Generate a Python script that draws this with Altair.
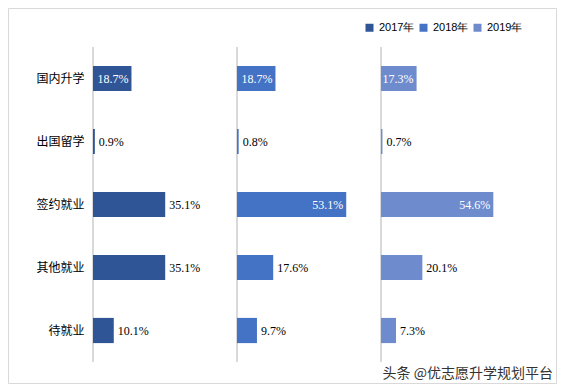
import altair as alt
import pandas as pd

years = ["2017年", "2018年", "2019年"]
categories = ["国内升学", "出国留学", "签约就业", "其他就业", "待就业"]
v2017 = [18.7, 0.9, 35.1, 35.1, 10.1]
v2018 = [18.7, 0.8, 53.1, 17.6, 9.7]
v2019 = [17.3, 0.7, 54.6, 20.1, 7.3]
colors = ["#2F5597", "#4472C4", "#6E8BCE"]
source_note = "头条 @优志愿升学规划平台"

PANEL = 70  # width of each panel in value units
series = [v2017, v2018, v2019]
rows = []
for i, (yr, vals) in enumerate(zip(years, series)):
    for c, v in zip(categories, vals):
        rows.append({"cat": c, "year": yr, "panel": i, "value": v})
df = pd.DataFrame(rows)
panels_df = pd.DataFrame({"px": [i * PANEL for i in range(len(years))]})

W, H = 432, 315
xscale = alt.Scale(domain=[0, PANEL * len(years)], nice=False, zero=True)
yscale = alt.Scale(domain=categories, paddingInner=0.6, paddingOuter=0.3)

base = alt.Chart(df).transform_calculate(
    start=f"datum.panel * {PANEL}",
    end=f"datum.panel * {PANEL} + datum.value",
    inside="datum.cat == '国内升学' || datum.value > 50",
    label="format(datum.value, '.1f') + '%'",
)

rules = alt.Chart(panels_df).mark_rule(color="#d9d9d9", strokeWidth=2).encode(
    x=alt.X("px:Q", scale=xscale, axis=None)
)

bars = base.mark_bar().encode(
    x=alt.X("start:Q", scale=xscale, axis=None),
    x2="end:Q",
    y=alt.Y("cat:N", scale=yscale, sort=categories, title=None,
            axis=alt.Axis(domain=False, ticks=False, grid=False, labelPadding=9,
                          labelFont="Noto Sans CJK SC", labelFontSize=12,
                          labelColor="#000000")),
    color=alt.Color("year:N", scale=alt.Scale(domain=years, range=colors),
                    legend=alt.Legend(title=None, orient="none", legendX=271, legendY=-25,
                                      direction="horizontal", symbolType="square",
                                      symbolSize=64, symbolStrokeWidth=0,
                                      labelFont="Liberation Sans", labelFontSize=11,
                                      labelColor="#000000", labelOffset=4,
                                      columnPadding=3)),
)

out_labels = base.transform_filter("!datum.inside").mark_text(
    align="left", baseline="middle", dx=4, font="Liberation Serif", fontSize=12, color="#000000"
).encode(
    x=alt.X("end:Q", scale=xscale, axis=None),
    y=alt.Y("cat:N", scale=yscale, sort=categories),
    text="label:N",
)

in_labels = base.transform_filter("datum.inside").mark_text(
    align="right", baseline="middle", dx=-3, font="Liberation Serif", fontSize=12, color="#ffffff"
).encode(
    x=alt.X("end:Q", scale=xscale, axis=None),
    y=alt.Y("cat:N", scale=yscale, sort=categories),
    text="label:N",
)

frame = alt.Chart(alt.Data(values=[{}])).mark_rect(
    fill=None, stroke="#d9d9d9", strokeWidth=1
).encode(
    x=alt.value(-84.5), x2=alt.value(463.5), y=alt.value(-38.5), y2=alt.value(336.5)
)

note = alt.Chart(alt.Data(values=[{}])).mark_text(
    align="right", baseline="middle", font="Noto Sans CJK SC", fontSize=14, color="#333333"
).encode(
    x=alt.value(460), y=alt.value(327), text=alt.value(source_note)
)

chart = alt.layer(rules, bars, out_labels, in_labels, frame, note).properties(
    width=W, height=H,
    padding={"left": 85, "top": 39, "right": 33, "bottom": 22},
    autosize=alt.AutoSizeParams(type="none"),
    background="#ffffff",
).configure_view(stroke=None)

chart.save("out.html", embed_options={"renderer": "svg", "actions": False})
